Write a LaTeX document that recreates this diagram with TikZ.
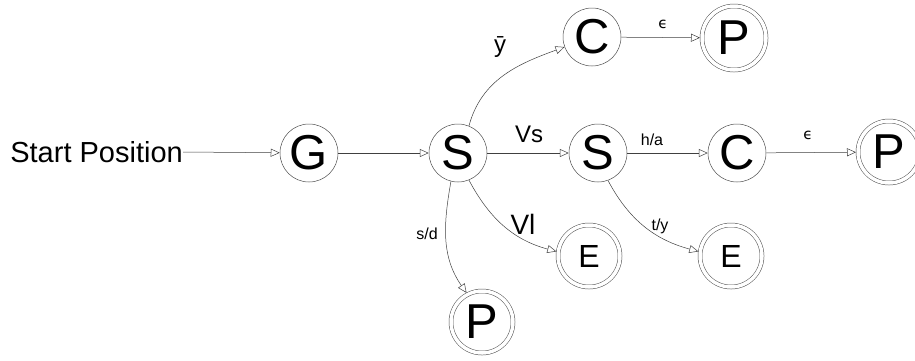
\documentclass[tikz,border=0pt]{standalone}
\usepackage{fontspec}
\setmainfont{Liberation Sans}
\newfontfamily\dejavu{DejaVu Sans}
\usetikzlibrary{arrows.meta}
\newcommand{\fs}[1]{\fontsize{#1}{#1}\selectfont}
\begin{document}
\begin{tikzpicture}[x=1pt,y=-1pt,
  state/.style={circle,draw=black!70,line width=0.5pt,minimum size=58pt,inner sep=0pt,font=\fs{49}},
  accept/.style={state,double,double distance=3.5pt,minimum size=62pt,outer sep=2pt},
  edge/.style={draw=black!75,line width=0.5pt,-{Triangle[open,length=9pt,width=8pt]}},
  lbl/.style={inner sep=0pt,font=\fs{16}},
  big/.style={inner sep=0pt,font=\fs{24}}]
\useasboundingbox (0,0) rectangle (915,360);
\node[inner sep=0pt,anchor=east,font=\fs{29}] (start) at (183,152) {Start Position};
\node[state] (G) at (309,153) {G};
\node[state] (S1) at (458,153) {S};
\node[state] (S2) at (598,153) {S};
\node[state] (C2) at (737,153) {C};
\node[accept] (P2) at (889,152) {P};
\node[state] (C1) at (592,37) {C};
\node[accept,minimum size=64pt] (P1) at (734,38) {P};
\node[accept,font=\fs{32}] (E1) at (589,256) {E};
\node[accept,font=\fs{32}] (E2) at (731,256) {E};
\node[accept] (P3) at (482,322) {P};
\draw[edge] (start.east) -- (G);
\draw[edge] (G) -- (S1);
\draw[edge] (S1) -- (S2);
\draw[edge] (S2) -- (C2);
\draw[edge] (C2) -- (P2);
\draw[edge] (C1) -- (P1);
\draw[edge] (S1.68) to[out=75,in=200] (C1.200);
\draw[edge] (S1.-68) to[out=-62,in=165] (E1.172);
\draw[edge] (S1.-104) to[out=-100,in=125] (P3.118);
\draw[edge] (S2.-70) to[out=-62,in=165] (E2.172);
\node[big] (lybar) at (500,47) {ȳ};
\node[lbl,font=\dejavu\fs{15}] (leps1) at (663,24) {ϵ};
\node[big] (lvs) at (529,134) {Vs};
\node[lbl] (lha) at (652,140) {h/a};
\node[lbl,font=\dejavu\fs{15}] (leps2) at (808,135) {ϵ};
\node[big,font=\fs{28}] (lvl) at (523,224) {Vl};
\node[lbl] (lsd) at (427,234) {s/d};
\node[lbl] (lty) at (660,226) {t/y};
\end{tikzpicture}
\end{document}
